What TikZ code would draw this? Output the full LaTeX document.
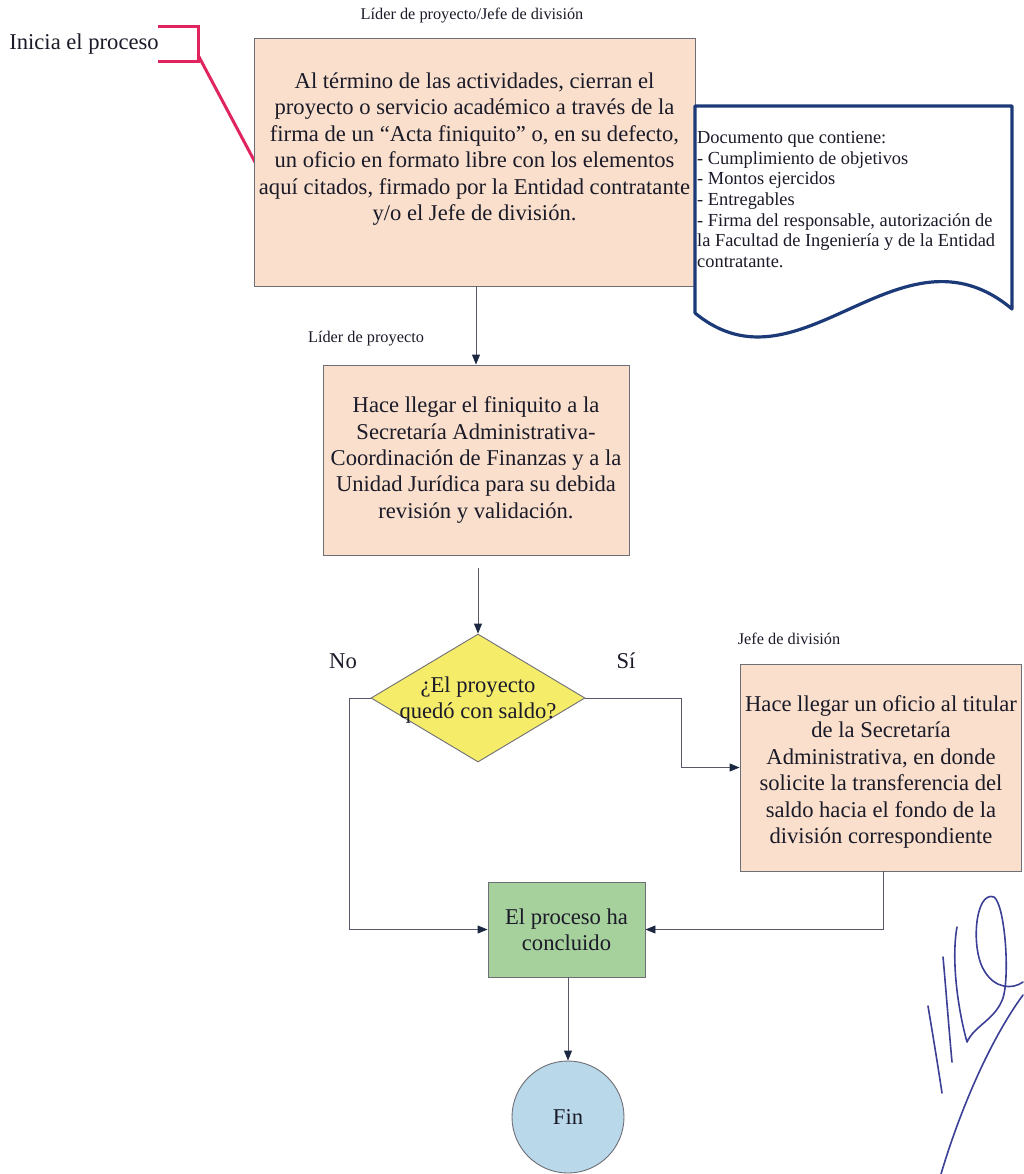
\documentclass[tikz,border=0pt]{standalone}
\usepackage{fontspec}
\setmainfont{Liberation Serif}
\usetikzlibrary{arrows.meta,shapes.geometric}
\definecolor{peach}{HTML}{F9DFCC}
\definecolor{dyellow}{HTML}{F5EC6A}
\definecolor{lgreen}{HTML}{A7D19C}
\definecolor{lblue}{HTML}{B9D9EA}
\definecolor{boxgray}{HTML}{6E6E76}
\definecolor{linegray}{HTML}{585868}
\definecolor{tipcol}{HTML}{1C2742}
\definecolor{txtcol}{HTML}{1A1A28}
\definecolor{docblue}{HTML}{1C3A78}
\definecolor{redmark}{HTML}{E0245E}
\definecolor{sigblue}{HTML}{3B3F95}
\begin{document}
\begin{tikzpicture}[x=1pt,y=-1pt,
  every node/.style={text=txtcol},
  big/.style={font=\fontsize{22.6}{26.4}\selectfont},
  lbl/.style={font=\fontsize{16.3}{19}\selectfont, inner sep=0pt},
  procbox/.style={draw=boxgray, line width=0.9pt, fill=peach, inner sep=0pt},
  arr/.style={draw=linegray, line width=0.9pt, -{Triangle[length=10pt,width=8pt,color=tipcol]}},
  redline/.style={draw=redmark, line width=3pt},
  sig/.style={draw=sigblue, line width=1.6pt, line cap=round, line join=round}]
\useasboundingbox (0,0) rectangle (1023,1174);

% labels
\node[lbl] (lab1) at (472,16) {Líder de proyecto/Jefe de división};
\node[lbl] (lab2) at (366,339) {Líder de proyecto};
\node[lbl] (lab3) at (789,639) {Jefe de división};

% start note
\node[big, inner sep=0pt] (ini) at (84,44) {Inicia el proceso};
\coordinate (brk) at (198,55);
\coordinate (brkend) at (256,164);
\draw[redline] (158,27) -- (198,27) -- (198,62) -- (158,62);
\draw[redline] (brk) -- (brkend);

% box 1
\node[procbox, minimum width=441pt, minimum height=248pt] (b1) at (474.5,162) {};
\node[big, align=center, inner sep=0pt] (t1) at (474.5,149) {Al término de las actividades, cierran el\\proyecto o servicio académico a través de la\\firma de un “Acta finiquito” o, en su defecto,\\un oficio en formato libre con los elementos\\aquí citados, firmado por la Entidad contratante\\y/o el Jefe de división.};

% document shape
\draw[draw=docblue, line width=3.2pt, fill=white, line join=round]
  (695,106) -- (1012,106) -- (1012,309)
  .. controls (900,215) and (800,400) .. (695,313) -- cycle;
\node[font=\fontsize{18.4}{20.7}\selectfont, align=left, anchor=north west, inner sep=0pt] (doc) at (697,131) {Documento que contiene:\\- Cumplimiento de objetivos\\- Montos ejercidos\\- Entregables\\- Firma del responsable, autorización de\\la Facultad de Ingeniería y de la Entidad\\contratante.};

% box 2
\node[procbox, big, align=center, minimum width=306pt, minimum height=190pt] (b2) at (476,460) {Hace llegar el finiquito a la\\Secretaría Administrativa-\\Coordinación de Finanzas y a la\\Unidad Jurídica para su debida\\revisión y validación.};

% decision
\node[diamond, draw=boxgray, line width=0.9pt, fill=dyellow, minimum width=214pt, minimum height=128pt, inner sep=0pt] (dec) at (478,698) {};
\node[big, align=center, inner sep=0pt] (dect) at (478,700) {¿El proyecto\\quedó con saldo?};
\node[big, inner sep=0pt] (no) at (343,661) {No};
\node[big, inner sep=0pt] (si) at (626,661) {Sí};

% box 3
\node[procbox, minimum width=281pt, minimum height=207pt] (b3) at (880.5,767.5) {};
\node[big, align=center, inner sep=0pt] (t3) at (881,772) {Hace llegar un oficio al titular\\de la Secretaría\\Administrativa, en donde\\solicite la transferencia del\\saldo hacia el fondo de la\\división correspondiente};

% end box
\node[draw=boxgray, line width=0.9pt, fill=lgreen, big, align=center, minimum width=157pt, minimum height=95pt, inner sep=0pt] (end) at (566.5,929.5) {El proceso ha\\concluido};

% terminal
\node[circle, draw=boxgray, line width=0.9pt, fill=lblue, minimum size=112pt, inner sep=0pt, big] (fin) at (568,1117) {Fin};

% connectors
\draw[arr] (b1.south -| b2.north) -- (b2.north);
\draw[arr, shorten <=13pt] (b2.south -| dec.north) -- (dec.north);
\draw[arr] (dec.west) -- ++(-21,0) |- (end.west);
\draw[arr] (dec.east) -- ++(96,0) |- (b3.west);
\draw[arr] ([xshift=2.5pt]b3.south) |- (end.east);
\draw[arr] (end.south -| fin.north) -- (fin.north);

% signature
\draw[sig] (942,1093) .. controls (937,1060) and (932,1030) .. (928,1006);
\draw[sig] (943,957) .. controls (946,990) and (949,1030) .. (952,1062);
\draw[sig] (957,927) .. controls (951,960) and (958,1010) .. (967,1042) .. controls (975,1025) and (995,1020) .. (1003,998) .. controls (1010,975) and (1005,905) .. (994,897) .. controls (975,890) and (970,950) .. (985,972) .. controls (995,988) and (1012,990) .. (1023,982);
\draw[sig] (941,1174) .. controls (960,1110) and (990,1040) .. (1023,995);
\end{tikzpicture}
\end{document}
